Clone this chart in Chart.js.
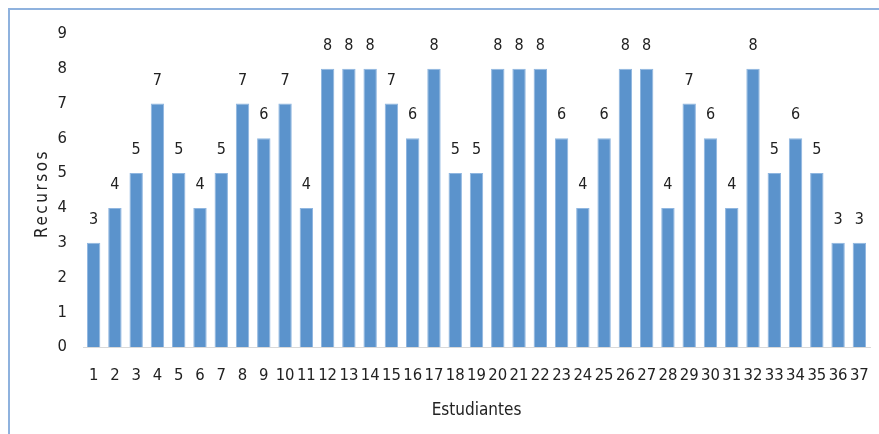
<!DOCTYPE html>
<html>
<head>
<meta charset="utf-8">
<script src="https://cdn.jsdelivr.net/npm/chart.js@4"></script>
<style>
  html, body { margin: 0; padding: 0; background: #fff; }
  #wrap { position: relative; width: 879px; height: 434px; }
  #frame { position: absolute; left: 8px; top: 8px; right: 0; bottom: 0;
           border-top: 2px solid #8fb2de; border-left: 2px solid #8fb2de; }
  canvas { position: absolute; left: 0; top: 0; }
</style>
</head>
<body>
<div id="wrap">
  <div id="frame"></div>
  <canvas id="chart" width="879" height="434"></canvas>
</div>
<script>
const estudiantes = ["1","2","3","4","5","6","7","8","9","10","11","12","13","14","15","16","17","18","19",
  "20","21","22","23","24","25","26","27","28","29","30","31","32","33","34","35","36","37"];
const recursos = [3,4,5,7,5,4,5,7,6,7,4,8,8,8,7,6,8,5,5,8,8,8,6,4,6,8,8,4,7,6,4,8,5,6,5,3,3];
const yTicks = [0,1,2,3,4,5,6,7,8,9];

const FONT = "'Liberation Sans Narrow', 'DejaVu Sans Condensed', sans-serif";
const TEXT = "#222";

// values above the bars + spaced y axis title
const barLabels = {
  id: "barLabels",
  afterDatasetsDraw(chart) {
    const ctx = chart.ctx;
    const meta = chart.getDatasetMeta(0);
    ctx.save();
    ctx.font = "16px " + FONT;
    ctx.fillStyle = TEXT;
    ctx.textAlign = "center";
    ctx.textBaseline = "middle";
    meta.data.forEach((bar, i) => {
      ctx.fillText(String(recursos[i]), bar.x, bar.y - 23);
    });
    ctx.restore();

    const area = chart.chartArea;
    ctx.save();
    ctx.font = "17px " + FONT;
    ctx.fillStyle = TEXT;
    ctx.letterSpacing = "2.5px";
    ctx.textAlign = "center";
    ctx.textBaseline = "middle";
    ctx.translate(43, (area.top + area.bottom) / 2 + 3);
    ctx.rotate(-Math.PI / 2);
    ctx.fillText("Recursos", 0, 0);
    ctx.restore();
  }
};

new Chart(document.getElementById("chart"), {
  type: "bar",
  data: {
    labels: estudiantes,
    datasets: [{
      data: recursos,
      backgroundColor: "#5b93cc",
      borderColor: "#8fb6e0",
      borderWidth: 1,
      categoryPercentage: 1,
      barPercentage: 0.63
    }]
  },
  options: {
    responsive: false,
    animation: false,
    layout: { padding: { top: 34, right: 9, left: 0, bottom: 0 } },
    plugins: { legend: { display: false }, tooltip: { enabled: false } },
    scales: {
      x: {
        grid: { display: false, drawTicks: false },
        border: { display: true, color: "#d9d9d9", width: 1 },
        ticks: { color: TEXT, font: { family: FONT, size: 16.5 }, padding: 19, maxRotation: 0, autoSkip: false },
        title: { display: true, text: "Estudiantes", color: TEXT, font: { family: FONT, size: 17 }, padding: { top: 4, bottom: 13 } },
        afterFit(s) { s.height = 87; s.paddingLeft = 0; s.paddingRight = 0; }
      },
      y: {
        min: 0,
        max: 9,
        afterBuildTicks(s) { s.ticks = yTicks.map(v => ({ value: v })); },
        grid: { display: false, drawTicks: false },
        border: { display: false },
        ticks: { color: TEXT, font: { family: FONT, size: 16.5 }, padding: 16 },
        afterFit(s) { s.width = 83; }
      }
    }
  },
  plugins: [barLabels]
});
</script>
</body>
</html>
